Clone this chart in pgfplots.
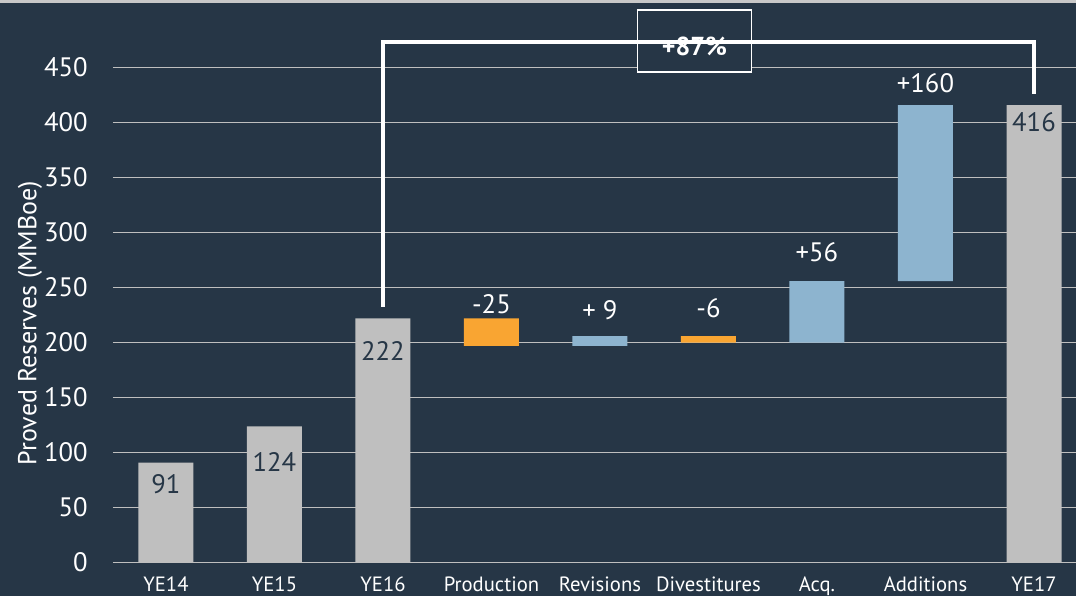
\documentclass[border=0pt]{standalone}
\usepackage{pgfplots}
\pgfplotsset{compat=1.18}
\usepackage{pgfplotstable}
\usepackage{fontspec}
\setmainfont{PT Sans}

\definecolor{bg}{HTML}{263646}
\definecolor{gridgray}{HTML}{BFBFBF}
\definecolor{bargray}{HTML}{BFBFBF}
\definecolor{barorange}{HTML}{F9A532}
\definecolor{barblue}{HTML}{8DB4CF}
\definecolor{strip}{HTML}{C8C8C8}

% waterfall: invisible base + visible segments
\pgfplotstableread{
x base gray orange blue
0 0   91  0  0
1 0   124 0  0
2 0   222 0  0
3 197 0   25 0
4 197 0   0  9
5 200 0   6  0
6 200 0   0  56
7 256 0   0  160
8 0   416 0  0
}\bars

% value labels: position, offset in px, text
\pgfplotstableread[col sep=comma]{
x,y,off,lab
0,91,-22,91
1,124,-36,124
2,222,-33,222
8,416,-17,416
}\inlabels

\pgfplotstableread[col sep=comma]{
x,y,off,lab
3,222,14,-25
4,206,26,+ 9
5,206,28,-6
6,256,29,+56
7,416,22,+160
}\uplabels

\pgfplotsset{
  frame/.style={
    width=722.25pt, height=422pt, scale only axis,
    xmin=-0.488, xmax=8.387, ymin=0, ymax=511.5,
    clip=false,
  },
}

\begin{document}
\begin{tikzpicture}
\path[use as bounding box, clip] (-84.75pt,-25pt) rectangle (722.25pt,422pt);
\fill[bg] (-84.75pt,-25pt) rectangle (722.25pt,422pt);
\fill[strip] (-84.75pt,419.4pt) rectangle (722.25pt,422pt);

\begin{axis}[
    frame,
    ybar stacked,
    bar width=41.25pt,
    axis line style={draw=none},
    tick style={draw=none},
    ymajorgrids,
    grid style={gridgray, line width=1.2pt},
    ytick={0,50,...,450},
    xtick={0,...,8},
    xticklabels={YE14,YE15,YE16,Production,Revisions,Divestitures,Acq.,Additions,YE17},
    xticklabel style={anchor=base, inner sep=0pt, yshift=-21.5pt, text=white,
      font=\fontsize{15.5}{18}\selectfont},
    /pgf/number format/assume math mode=true,
    yticklabel style={anchor=east, inner sep=0pt, xshift=-18.75pt, text=white,
      font=\fontsize{20}{24}\selectfont},
    ylabel={Proved Reserves (MMBoe)},
    ylabel style={at={(rel axis cs:-0.0862,0.426)}, anchor=center, text=white,
      font=\fontsize{19.5}{22}\selectfont},
]
\addplot[fill=none, draw=none] table[x=x, y=base] {\bars};
\addplot[fill=bargray, draw=none] table[x=x, y=gray] {\bars};
\addplot[fill=barorange, draw=none] table[x=x, y=orange] {\bars};
\addplot[fill=barblue, draw=none] table[x=x, y=blue] {\bars};

% +87% bracket from YE16 to YE17
\draw[white, line width=3.4pt] (axis cs:2,232.5) -- (axis cs:2,473.2) -- (axis cs:8,473.2) -- (axis cs:8,426);
\node[draw=white, line width=1.2pt, fill=bg, text=white, minimum width=85.5pt, minimum height=46.5pt,
  inner sep=0pt, font=\fontsize{19.5}{22}\selectfont\bfseries]
  at (axis cs:4.87,474) {\raisebox{-10.5pt}[0pt][0pt]{+87\%}};
\end{axis}

\begin{axis}[frame, hide axis]
\addplot[only marks, mark=none, nodes near coords, point meta=explicit symbolic,
  visualization depends on={\thisrow{off} \as \off},
  nodes near coords style={anchor=center, inner sep=0pt, yshift=0.75pt*\off, text=bg,
    font=\fontsize{20}{24}\selectfont}]
  table[x=x, y=y, meta=lab] {\inlabels};
\addplot[only marks, mark=none, nodes near coords, point meta=explicit symbolic,
  visualization depends on={\thisrow{off} \as \off},
  nodes near coords style={anchor=center, inner sep=0pt, yshift=0.75pt*\off, text=white,
    font=\fontsize{20}{24}\selectfont}]
  table[x=x, y=y, meta=lab] {\uplabels};
\end{axis}
\end{tikzpicture}
\end{document}
